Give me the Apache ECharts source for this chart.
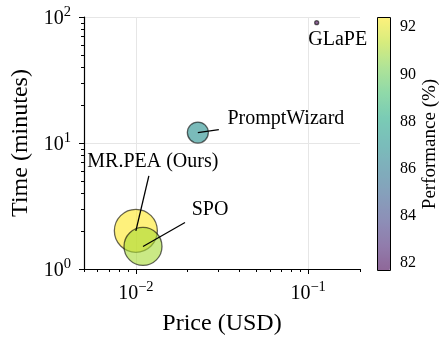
<!DOCTYPE html>
<html><head><meta charset="utf-8">
<script src="https://cdn.jsdelivr.net/npm/echarts@6/dist/echarts.min.js"></script>
<style>html,body{margin:0;padding:0;background:#fff}#c{width:442px;height:341px}</style>
</head><body><div id="c"></div>
<script>
// ---- data ----
const methods = ['MR.PEA (Ours)', 'SPO', 'PromptWizard', 'GLaPE'];
const price = [0.0100, 0.0110, 0.0229, 0.1121];
const timeMin = [2.01, 1.51, 12.1, 90.2];
const performance = [92.43, 91.0, 86.9, 81.66];
const xMajorTicks = [0.01, 0.1];
const xMinorTicks = [0.005, 0.006, 0.007, 0.008, 0.009, 0.02, 0.03, 0.04, 0.05, 0.06, 0.07, 0.08, 0.09, 0.2];
const yMajorTicks = [1, 10, 100];
const yMinorTicks = [2, 3, 4, 5, 6, 7, 8, 9, 20, 30, 40, 50, 60, 70, 80, 90];
const perfTicks = [82, 84, 86, 88, 90, 92];
const perfMin = 81.66, perfMax = 92.43;

// ---- styling ----
const FONT = '"Liberation Serif", "DejaVu Serif", serif';
const markerSize = {'MR.PEA (Ours)': 43, 'SPO': 38, 'PromptWizard': 21, 'GLaPE': 4};
const annot = {
  'MR.PEA (Ours)': {text: [17, -69], line: [13, -55]},
  'SPO': {text: [67, -37], line: [42, -24]},
  'PromptWizard': {text: [88, -14], line: [21, -3]},
  'GLaPE': {text: [21, 17], line: null}
};
const viridis = ['#440154','#482475','#414487','#355f8d','#2a788e','#21918c','#22a884','#44bf70','#7ad151','#bddf26','#fde725'];
const ALPHA = 0.6;
function blend(hex) {
  const n = parseInt(hex.slice(1), 16);
  const r = (n >> 16) & 255, g = (n >> 8) & 255, b = n & 255;
  const f = c => Math.round(c * ALPHA + 255 * (1 - ALPHA));
  return 'rgb(' + f(r) + ',' + f(g) + ',' + f(b) + ')';
}
const viridisBlended = viridis.map(blend);

function powLabel(v) {
  const e = Math.round(Math.log10(v));
  return '{b|10}{s|' + String(e).replace('-', '\u2212') + '}';
}
const powRich = {
  b: {fontFamily: FONT, fontSize: 20, color: '#000', padding: [4, 0, 0, 0], verticalAlign: 'bottom'},
  s: {fontFamily: FONT, fontSize: 14.5, color: '#000', verticalAlign: 'top'}
};
const axisLineStyle = {color: '#000', width: 1.2};
const tickLineStyle = {color: '#000', width: 1};
const gridLineStyle = {color: '#e6e6e6', width: 1};

const chart = echarts.init(document.getElementById('c'), null, {renderer: 'canvas'});
const option = {
  animation: false,
  backgroundColor: '#fff',
  grid: [
    {left: 84, top: 17, width: 276, height: 253, containLabel: false},
    {left: 377, top: 17, width: 13, height: 254, containLabel: false, show: false}
  ],
  xAxis: [
    {type: 'log', gridIndex: 0, position: 'bottom', min: 0.005, max: 0.2,
      axisLine: {show: true, lineStyle: axisLineStyle},
      axisTick: {show: true, customValues: xMajorTicks, length: 5, inside: false, lineStyle: tickLineStyle},
      axisLabel: {customValues: xMajorTicks, formatter: powLabel, rich: powRich, margin: 11},
      splitLine: {show: true, lineStyle: gridLineStyle},
      name: 'Price (USD)', nameLocation: 'middle', nameGap: 43,
      nameTextStyle: {fontFamily: FONT, fontSize: 24, color: '#000'}},
    {type: 'log', gridIndex: 0, position: 'bottom', min: 0.005, max: 0.2,
      axisLine: {show: false},
      axisTick: {show: true, customValues: xMinorTicks, length: 3, inside: false, lineStyle: tickLineStyle},
      axisLabel: {show: false}, splitLine: {show: false}},
    {type: 'value', gridIndex: 1, show: false, min: 0, max: 1}
  ],
  yAxis: [
    {type: 'log', gridIndex: 0, position: 'left', min: 1, max: 100,
      axisLine: {show: true, lineStyle: axisLineStyle},
      axisTick: {show: true, customValues: yMajorTicks, length: 5, inside: false, lineStyle: tickLineStyle},
      axisLabel: {customValues: yMajorTicks, formatter: powLabel, rich: powRich, margin: 13},
      splitLine: {show: true, lineStyle: gridLineStyle},
      name: 'Time (minutes)', nameLocation: 'middle', nameGap: 47,
      nameTextStyle: {fontFamily: FONT, fontSize: 24, color: '#000'}},
    {type: 'log', gridIndex: 0, position: 'left', min: 1, max: 100,
      axisLine: {show: false},
      axisTick: {show: true, customValues: yMinorTicks, length: 3, inside: false, lineStyle: tickLineStyle},
      axisLabel: {show: false}, splitLine: {show: false}},
    {type: 'value', gridIndex: 1, position: 'right', min: perfMin, max: perfMax,
      axisLine: {show: false},
      axisTick: {show: true, customValues: perfTicks, length: 4, inside: false, lineStyle: tickLineStyle},
      axisLabel: {customValues: perfTicks, fontFamily: FONT, fontSize: 16, color: '#000', margin: 10},
      splitLine: {show: false},
      name: 'Performance (%)', nameLocation: 'middle', nameRotate: 90, nameGap: 31,
      nameTextStyle: {fontFamily: FONT, fontSize: 19, color: '#000'}}
  ],
  visualMap: {
    type: 'continuous', seriesIndex: 0, dimension: 2, min: perfMin, max: perfMax,
    left: 377, top: 17, itemWidth: 13, itemHeight: 254, padding: 0,
    calculable: false, hoverLink: false, text: null,
    inRange: {color: viridis},
    controller: {inRange: {color: viridisBlended}}
  },
  series: [{
    type: 'scatter', xAxisIndex: 0, yAxisIndex: 0,
    data: methods.map((m, i) => ({name: m, value: [price[i], timeMin[i], performance[i]]})),
    symbolSize: (val, params) => markerSize[params.name],
    itemStyle: {opacity: ALPHA, borderColor: '#000', borderWidth: 1.3},
    emphasis: {disabled: true}
  }]
};
chart.setOption(option);

const graphics = [{
  type: 'rect', shape: {x: 377.5, y: 17.5, width: 13, height: 253},
  style: {fill: null, stroke: '#000', lineWidth: 1}, z: 100
}];
methods.forEach((m, i) => {
  const p = chart.convertToPixel({xAxisIndex: 0, yAxisIndex: 0}, [price[i], timeMin[i]]);
  const a = annot[m];
  if (a.line) {
    graphics.push({type: 'line', shape: {x1: p[0], y1: p[1], x2: p[0] + a.line[0], y2: p[1] + a.line[1]},
      style: {stroke: '#000', lineWidth: 1.3}, z: 100});
  }
  graphics.push({type: 'text', x: p[0] + a.text[0], y: p[1] + a.text[1],
    style: {text: m, font: '20px ' + FONT, fill: '#000', align: 'center', verticalAlign: 'middle'}, z: 100});
});
chart.setOption({graphic: graphics});
</script></body></html>
